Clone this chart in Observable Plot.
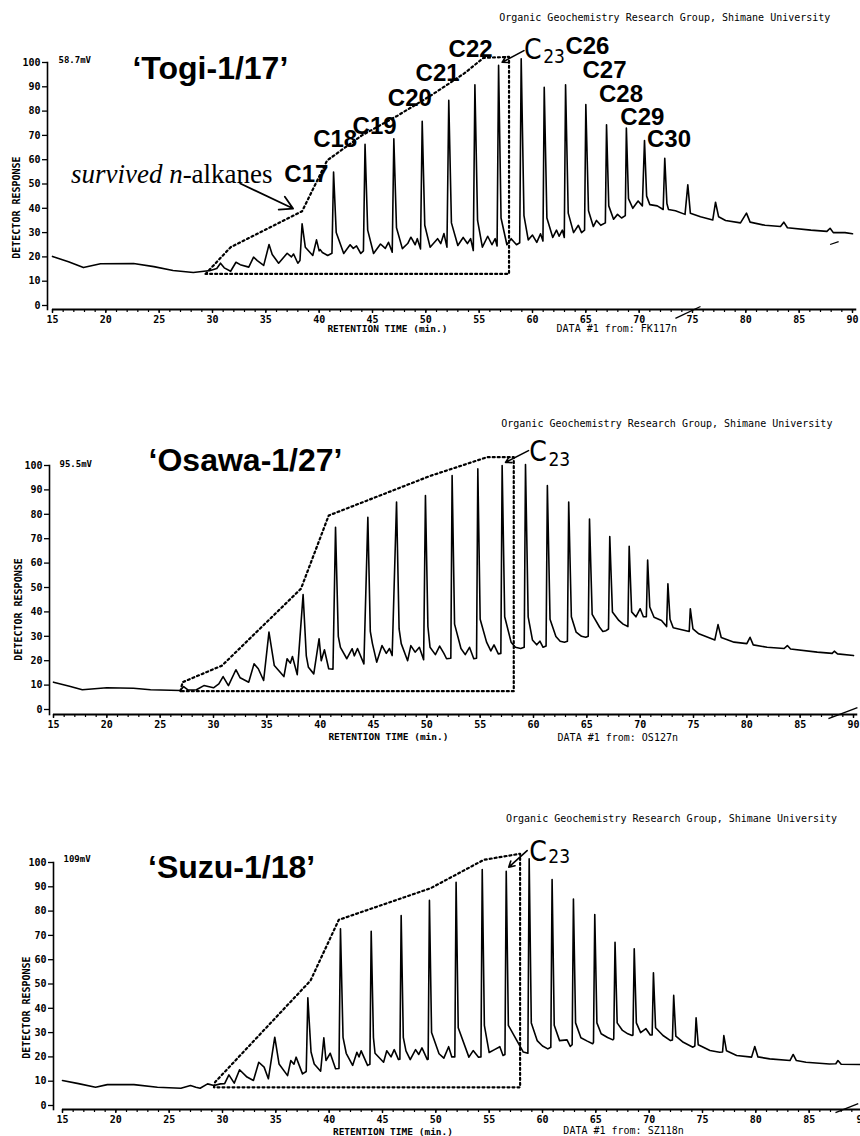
<!DOCTYPE html>
<html><head><meta charset="utf-8">
<script src="https://cdn.jsdelivr.net/npm/d3@7"></script>
<script src="https://cdn.jsdelivr.net/npm/@observablehq/plot@0.6"></script>
<style>
html,body{margin:0;padding:0;background:#fff;overflow:hidden}
#root{position:relative;width:860px;height:1136px;background:#fff}
#root svg{position:absolute;left:0;overflow:visible}
</style></head><body><div id="root"></div>
<script>
// ---------- DATA ----------
const xTickValues = [15,20,25,30,35,40,45,50,55,60,65,70,75,80,85,90];
const yTickValues = [0,10,20,30,40,50,60,70,80,90,100];
const sampleTitles = ["\u2018Togi-1/17\u2019", "\u2018Osawa-1/27\u2019", "\u2018Suzu-1/18\u2019"];
const signalScales = ["58.7mV", "95.5mV", "109mV"];
const dataFiles = ["DATA #1 from: FK117n", "DATA #1 from: OS127n", "DATA #1 from: SZ118n"];
const togiPeakNames = ["C17","C18","C19","C20","C21","C22","C26","C27","C28","C29","C30"];

// retention time (min), detector response (%)
const togiTrace = [[15.0,20.2],[16.5,18.0],[17.9,15.6],[19.5,17.2],[22.6,17.3],[24.5,16.0],[26.3,14.4],[28.2,13.6],[29.8,14.4],[30.4,15.2],[30.75,17.4],[31.1,15.5],[31.7,14.1],[32.2,17.8],[32.6,16.8],[33.4,15.8],[33.85,19.9],[34.2,18.5],[34.8,16.5],[35.3,25.1],[35.6,21],[36.2,17.4],[37.0,21.5],[37.4,20.0],[37.6,21.2],[38.0,17.4],[38.2,18.5],[38.4,33.6],[38.7,24],[39.4,20.6],[39.75,27],[40.0,22.5],[40.1,23],[40.3,21.8],[40.8,20.6],[41.2,21.5],[41.35,54.9],[41.6,30],[42.3,21.4],[42.9,25],[43.2,23.5],[43.5,24.5],[43.9,21.4],[44.15,22.5],[44.3,66.3],[44.55,31],[45.1,21.4],[45.75,25.3],[46.2,23.5],[46.5,26],[46.85,21.9],[47.0,68.6],[47.25,32],[47.8,23.4],[48.3,25.5],[48.6,28.1],[49.0,25],[49.2,27.5],[49.5,23.3],[49.66,75.8],[49.9,33],[50.4,24],[51.1,27.5],[51.4,25.5],[51.7,29.6],[51.98,24],[52.15,84.4],[52.4,34],[53.0,24.7],[53.5,28],[53.9,25.5],[54.2,27.5],[54.45,22.6],[54.6,90.8],[54.85,35],[55.3,24],[55.8,28.5],[56.2,25],[56.5,27.5],[56.68,24.5],[56.82,98.8],[57.05,36],[57.6,25],[58.0,27.5],[58.5,25],[58.8,25.8],[58.94,101.5],[59.2,37],[59.6,27],[60.0,29],[60.4,26],[60.75,29.5],[60.98,26.5],[61.1,89.8],[61.35,36],[61.9,28],[62.25,31],[62.5,28.5],[62.8,31],[62.98,28],[63.1,90.8],[63.35,38],[63.85,30],[64.3,33],[64.6,30],[64.88,31],[65.0,82.7],[65.25,39],[65.7,32.5],[66.0,35],[66.4,33],[66.83,34],[66.94,74.4],[67.15,41],[67.6,35.5],[67.97,37.5],[68.35,36],[68.7,37],[68.8,73],[69.0,44],[69.4,40],[69.9,43],[70.3,41],[70.5,67.9],[70.7,45],[71.0,41.5],[71.7,41],[72.25,39.5],[72.4,60.6],[72.6,42],[72.75,39.5],[73.4,39],[74.3,37.5],[74.56,49.7],[74.8,38],[75.75,36.5],[76.9,35.2],[77.16,42.5],[77.45,36.5],[78.1,35],[79.5,34],[80.06,38],[80.4,34.3],[81.8,33],[83.25,32.5],[83.56,34.3],[83.9,32],[86.1,31],[87.6,30.5],[87.9,31.8],[88.2,30],[89.3,30],[90,29.5]];

const osawaTrace = [[15,11.2],[16.5,9.5],[17.7,8.1],[20,8.9],[22.5,8.7],[24.1,8.1],[26.9,7.8],[27.2,9.4],[27.6,8.0],[28.4,8.1],[29.1,9.8],[30,8.9],[30.5,10.5],[30.9,13.5],[31.4,9.8],[32.1,16.3],[32.5,13],[33.3,11.2],[33.8,18.7],[34.2,16.7],[34.7,11.9],[35.2,31.7],[35.7,18],[36.6,13.5],[36.9,20.8],[37.2,19],[37.4,21.7],[37.85,14.3],[38.4,47.1],[38.7,22],[38.9,17.3],[39.4,14.6],[39.9,29],[40.1,20],[40.4,24.5],[40.8,16.7],[41.2,16.5],[41.44,74.7],[41.7,30],[41.9,25.5],[42.5,20.8],[43.0,24.9],[43.2,22],[43.5,25],[44.1,18.7],[44.47,78.8],[44.7,32],[44.9,27],[45.3,19.4],[45.8,26.2],[46.2,23],[46.5,25],[46.75,22.1],[47.16,85],[47.4,33],[47.6,27],[48.2,20],[48.5,26.2],[48.9,23.5],[49.3,25.5],[49.7,20.4],[49.87,87.7],[50.1,34],[50.3,25.5],[50.8,22.5],[51.2,26],[51.6,23],[51.85,20.8],[52.25,21],[52.37,95.9],[52.6,35],[53.2,25],[53.6,22.5],[54.0,25.5],[54.4,20.8],[54.66,21],[54.78,98.6],[55.0,37],[55.6,27.6],[56.0,24],[56.3,26.5],[56.7,22.8],[56.94,23],[57.06,100],[57.3,38],[57.9,27.6],[58.3,25.5],[58.8,25],[59.13,25.5],[59.25,100.4],[59.5,38],[59.9,28.5],[60.3,26.5],[60.6,28],[60.9,25.5],[61.18,26],[61.3,91.8],[61.55,37],[62.1,29.9],[62.5,28],[62.9,27.6],[63.18,28],[63.3,85],[63.55,38],[64.0,31.7],[64.5,30],[64.9,29.6],[65.13,30],[65.25,78.1],[65.5,39],[66.2,33.7],[66.5,32],[66.8,32.3],[67.03,33],[67.15,70.9],[67.4,40],[68.0,36.5],[68.4,35],[68.85,34],[68.97,66.9],[69.2,40],[69.6,38],[70.0,41.3],[70.3,38],[70.58,38],[70.7,61.3],[70.9,42],[71.3,37.8],[72.0,36.5],[72.48,34],[72.6,51.5],[72.8,37],[73.1,33.5],[74.2,32.4],[74.6,32],[74.7,41.3],[74.95,33],[75.5,31],[77.0,28.5],[77.3,34.8],[77.6,29.5],[78.8,27.6],[80.0,27],[80.3,29.6],[80.6,26.5],[81.9,25.5],[83.5,25],[83.8,26.2],[84.1,24.8],[86.6,23.5],[88.0,23],[88.2,23.9],[88.5,22.8],[90,22.1]];

const suzuTrace = [[15,10.3],[16.5,9],[18.1,7.5],[19.2,8.6],[21.7,8.6],[23.9,7.5],[26.1,7.1],[27.0,8.2],[27.5,7.5],[27.9,7.1],[28.6,8.9],[29.2,8.2],[29.8,8.9],[30.2,9.0],[30.6,12.6],[31.1,9.2],[31.6,14.7],[32.3,11.7],[32.9,10.3],[33.4,17.8],[33.9,15.8],[34.3,11],[34.9,28.1],[35.3,17.1],[36.1,12.3],[36.4,18.5],[36.7,17],[36.9,19.9],[37.5,13],[37.85,14],[38.0,44.3],[38.3,22],[38.6,17.1],[39.2,14.1],[39.5,27.9],[39.7,18.5],[40.1,21.5],[40.6,15.1],[40.92,15.2],[41.06,72.7],[41.3,28],[41.6,21.5],[42.2,16.5],[42.6,21.9],[42.8,20],[43.0,22.5],[43.6,16.5],[43.82,17],[43.94,71.7],[44.15,28],[44.3,21.5],[45.1,17.8],[45.4,22.5],[45.8,20],[46.1,23],[46.5,18.9],[46.63,19],[46.75,78.2],[46.95,28],[47.2,22.5],[47.6,18.9],[48.1,23],[48.4,21],[48.7,23.7],[49.2,18.9],[49.28,19],[49.4,84.4],[49.6,30],[50.3,21.3],[50.75,19.5],[51.2,24.2],[51.5,20],[51.78,20],[51.9,91.9],[52.1,32],[53.1,19.9],[53.5,22.6],[54.0,19.9],[54.23,20],[54.35,97.1],[54.55,33],[55.0,21.8],[55.5,23],[56.0,24.2],[56.3,20.6],[56.48,21],[56.6,96.4],[56.8,33],[57.6,26.7],[58.2,22],[58.63,21.5],[58.75,101.5],[58.95,34],[59.5,26.7],[60.0,24.5],[60.5,23.3],[60.78,24],[60.9,93],[61.1,33],[61.6,26.7],[62.3,27],[62.6,24.3],[62.78,25],[62.9,85],[63.1,34],[63.6,27.9],[64.2,26.5],[64.7,25.4],[64.78,26],[64.9,78.6],[65.1,34],[65.5,29.5],[66.1,28],[66.6,27],[66.68,27.5],[66.8,67.2],[67.0,34],[67.5,30.9],[68.0,29.5],[68.4,28.8],[68.48,29],[68.6,64.5],[68.8,34],[69.2,30],[69.7,31.6],[70.1,29],[70.28,29],[70.4,54.6],[70.6,32],[71.3,28.8],[72.0,26.7],[72.18,27],[72.3,45.3],[72.5,28.5],[73.2,26],[74.1,24],[74.28,24.5],[74.4,36.1],[74.6,25],[75.7,22.6],[76.6,21.9],[76.88,22],[77.0,28.8],[77.25,22.5],[78.2,20.6],[79.6,19.9],[79.9,24.3],[80.2,20],[81.3,19.2],[83.2,18.5],[83.5,21],[83.8,18.5],[84.7,17.8],[86.9,17.1],[87.5,17.2],[87.7,18.5],[88.0,17],[89.8,16.9]];

// dotted outline of the "survived n-alkanes" hump
const togiEnvelope = [[29.35,13.0],[31.7,24],[38.4,38.8],[40.75,59.7],[44,70],[47.3,78],[50.5,86.5],[53.6,95.5],[55.4,101.9],[57.8,102.3],[57.8,13.0],[29.35,13.0]];
const osawaEnvelope = [[26.9,7.5],[27.1,11.2],[30.8,18],[38.2,49.5],[40.8,79.5],[50.3,95.7],[55.65,103.4],[58.15,103.4],[58.15,7.5],[26.9,7.5]];
const suzuEnvelope = [[29.2,7.5],[29.3,9.6],[38.25,51.4],[40.9,76.4],[49.5,89.4],[54.5,101.1],[57.9,103.6],[57.9,7.5],[29.2,7.5]];

// ---------- LAYOUT ----------
const mono = "'DejaVu Sans Mono', 'Liberation Mono', monospace";
const sans = "'Liberation Sans', Arial, Helvetica, sans-serif";
const serif = "'Liberation Serif', 'Times New Roman', serif";
const hand = "'DejaVu Sans Condensed', 'DejaVu Sans', sans-serif";
const header = "Organic Geochemistry Research Group, Shimane University";
const root = document.getElementById("root");
const xMinor = d3.range(15, 91, 1);

const togiLabelPos = [[38.8,54.1],[41.5,68.3],[45.2,73.7],[48.5,85.4],[51.1,95.7],[54.2,105.3],[65.15,106.6],[66.75,96.7],[68.3,87.1],[70.3,77.5],[72.8,68.3]];

function panel(c) {
  const T = (txt, o) => Plot.text([txt], {text: d => d, fill: "#000", ...o});
  const marks = [
    Plot.frame({anchor: "left", stroke: "#000", strokeWidth: 1.6}),
    Plot.ruleY([0], {x1: 15, x2: 90.4, dy: c.axisDy, stroke: "#000", strokeWidth: 1.8}),
    Plot.axisY(yTickValues, {anchor: "left", tickSize: 5, tickPadding: 2, fontSize: 10, fontWeight: "bold", fontFamily: mono, label: null, strokeWidth: 1.3}),
    Plot.axisX(xMinor, {anchor: "bottom", tickSize: 3, text: null, label: null, strokeWidth: 1.2}),
    Plot.axisX(xTickValues, {anchor: "bottom", tickSize: 4, tickPadding: 2, fontSize: 10, fontWeight: "bold", fontFamily: mono, label: null, strokeWidth: 1.4}),
    Plot.line(c.envelope, {x: d => d[0], y: d => d[1], stroke: "#000", strokeWidth: 2.2, strokeDasharray: "2,3"}),
    Plot.line(c.trace, {x: d => d[0], y: d => d[1], stroke: "#000", strokeWidth: 1.6, strokeLinejoin: "round"}),
    T(c.title, {x: c.titlePos[0], y: c.titlePos[1], fontSize: 32, fontWeight: "bold", fontFamily: sans}),
    T(c.mv, {x: c.mvPos[0], y: c.mvPos[1], textAnchor: "start", fontSize: 9, fontWeight: "bold", fontFamily: mono}),
    T("DETECTOR RESPONSE", {x: 15, y: c.detY, dx: c.detDx, rotate: -90, fontSize: 10, fontWeight: "bold", fontFamily: mono}),
    T(header, {x: c.headerPos[0], y: c.headerPos[1], fontSize: 10, fontFamily: mono}),
    T("RETENTION TIME (min.)", {x: c.retPos[0], y: c.retPos[1], fontSize: 9.5, fontWeight: "bold", fontFamily: mono}),
    T(c.dataTxt, {x: c.dataPos[0], y: c.dataPos[1], fontSize: 10, fontFamily: mono}),
    Plot.arrow([0], {x1: c.c23Arrow[0], y1: c.c23Arrow[1], x2: c.c23Arrow[2], y2: c.c23Arrow[3], stroke: "#000", strokeWidth: 1.6, headLength: 6}),
    T("C", {x: c.c23Pos[0], y: c.c23Pos[1], textAnchor: "start", lineAnchor: "bottom", fontSize: 28, fontFamily: hand}),
    T("23", {x: c.c23Pos[2], y: c.c23Pos[3], textAnchor: "start", lineAnchor: "bottom", fontSize: 19, fontFamily: hand}),
    ...(c.slashes || []).map(s => Plot.link([0], {x1: s[0], y1: s[1], x2: s[2], y2: s[3], stroke: "#000", strokeWidth: 1.3})),
    ...(c.extra || [])
  ];
  const svg = Plot.plot({
    width: 860, height: c.height,
    marginTop: c.mt, marginBottom: c.mb, marginLeft: c.ml, marginRight: c.mr,
    x: {domain: [15, 90], range: c.xr},
    y: {domain: [0, 100], range: c.yr},
    style: {background: "transparent", overflow: "visible", fontFamily: mono, color: "#000"},
    marks
  });
  svg.style.top = c.top + "px";
  root.appendChild(svg);
}

// Panel 1: Togi
panel({
  top: 0, height: 340, mt: 62, mb: 31, ml: 47, mr: 8, xr: [52, 852], yr: [305, 62], axisDy: 4,
  trace: togiTrace, envelope: togiEnvelope,
  title: sampleTitles[0], titlePos: [29.8, 97.5],
  mv: signalScales[0], mvPos: [15.56, 100.8],
  detY: 40.3, detDx: -36,
  headerPos: [72.4, 118.5],
  retPos: [46.4, -9.5], dataTxt: dataFiles[0], dataPos: [67.9, -9.5],
  c23Arrow: [59.2, 104.9, 57.16, 100.1], c23Pos: [59.2, 101.6, 61.0, 99.6],
  slashes: [[87.9, 25.1, 88.7, 26.3], [73.4, -5.3, 75.75, -0.4]],
  extra: [
    Plot.text(togiPeakNames, {x: (d, i) => togiLabelPos[i][0], y: (d, i) => togiLabelPos[i][1], text: d => d, fontSize: 24, fontWeight: "bold", fontFamily: sans, fill: "#000"}),
    Plot.text(["survived n"], {x: 27.2, y: 50.6, text: d => d, textAnchor: "end", lineAnchor: "bottom", fontSize: 27, fontStyle: "italic", fontFamily: serif, fill: "#000"}),
    Plot.text(["-alkanes"], {x: 27.2, y: 50.6, text: d => d, textAnchor: "start", lineAnchor: "bottom", fontSize: 27, fontFamily: serif, fill: "#000"}),
    Plot.arrow([0], {x1: 32.6, y1: 50.2, x2: 37.55, y2: 39.9, stroke: "#000", strokeWidth: 1.8, headLength: 12})
  ]
});

// Panel 2: Osawa
panel({
  top: 380, height: 380, mt: 85, mb: 46, ml: 49, mr: 7, xr: [53, 853], yr: [329, 85], axisDy: 5,
  trace: osawaTrace, envelope: osawaEnvelope,
  title: sampleTitles[1], titlePos: [33.0, 102],
  mv: signalScales[1], mvPos: [15.56, 100.6],
  detY: 41, detDx: -35,
  headerPos: [72.5, 117.2],
  retPos: [46.4, -11.1], dataTxt: dataFiles[1], dataPos: [67.9, -11.5],
  c23Arrow: [59.53, 106.1, 57.38, 101.3], c23Pos: [59.6, 102, 61.4, 100],
  slashes: [[87.65, -3.7, 90.37, 0.8]]
});

// Panel 3: Suzu
panel({
  top: 770, height: 366, mt: 92, mb: 27, ml: 53, mr: 0, xr: [62, 862], yr: [335, 92], axisDy: 4,
  trace: suzuTrace, envelope: suzuEnvelope,
  title: sampleTitles[2], titlePos: [30.85, 97.9],
  mv: signalScales[2], mvPos: [15.09, 101.2],
  detY: 40.3, detDx: -36,
  headerPos: [72.1, 118.1],
  retPos: [45.98, -10.7], dataTxt: dataFiles[2], dataPos: [67.6, -10.3],
  c23Arrow: [58.56, 104.9, 56.84, 98.1], c23Pos: [58.75, 100.8, 60.55, 100],
  slashes: [[87.47, -2.9, 89.6, 0.8]]
});
</script>
</body></html>
